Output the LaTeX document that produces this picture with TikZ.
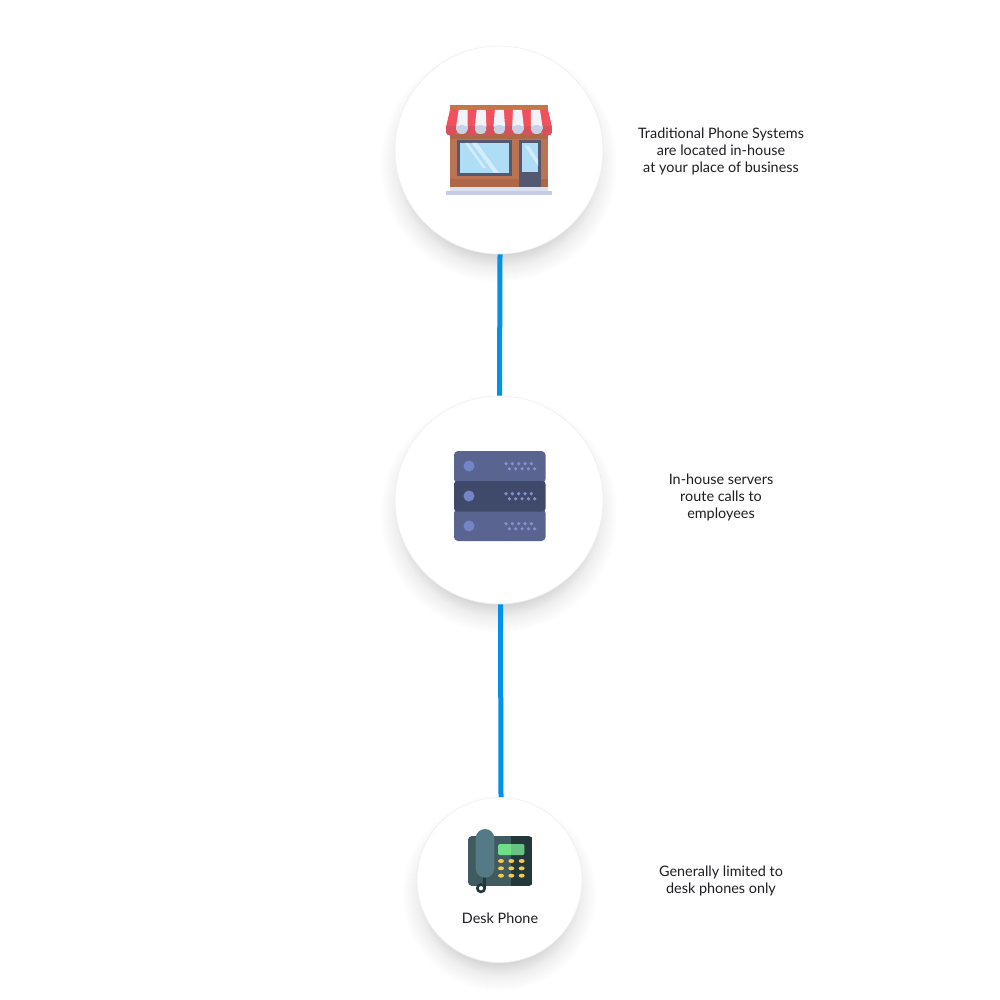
\documentclass[tikz,border=0pt]{standalone}
\usepackage{fontspec}
\setmainfont{Lato}
\definecolor{linkblue}{HTML}{0091EA}
\definecolor{txt}{HTML}{1E1E22}
\definecolor{ringc}{HTML}{F0F0F0}
\definecolor{shadowc}{HTML}{303030}
\definecolor{awred}{HTML}{F2505D}
\definecolor{awredd}{HTML}{D8505C}
\definecolor{awwh}{HTML}{F1F3F9}
\definecolor{awwhd}{HTML}{C7D2E8}
\definecolor{brick}{HTML}{BA7454}
\definecolor{brickd}{HTML}{AE6848}
\definecolor{frame}{HTML}{55596F}
\definecolor{glass}{HTML}{AEDDF5}
\definecolor{glassl}{HTML}{D3EDFA}
\definecolor{baseb}{HTML}{C5CDE4}
\definecolor{srvl}{HTML}{5A6490}
\definecolor{srvd}{HTML}{3F4A6B}
\definecolor{srvc}{HTML}{7384C9}
\definecolor{srvdot}{HTML}{8492CF}
\definecolor{phl}{HTML}{3F5B5F}
\definecolor{phd}{HTML}{22383B}
\definecolor{phh}{HTML}{547A85}
\definecolor{scrl}{HTML}{6FDE86}
\definecolor{scrd}{HTML}{69C283}
\definecolor{btn}{HTML}{F8C846}
\tikzset{
  disc/.style={circle,draw=ringc,line width=0.7pt,fill=white,inner sep=0pt,minimum size=#1},
  link/.style={draw=linkblue,line width=5pt},
  note/.style={align=center,text=txt,font=\fontsize{14.4}{17}\selectfont,inner sep=0pt},
}
\newcommand{\softshadow}[3]{%
  \foreach \k in {0,...,40}{
    \fill[shadowc,opacity={0.0008+0.00025*\k}] (#1,#2+14) circle ({#3+20-\k});
  }}
\begin{document}
\begin{tikzpicture}[x=1pt,y=-1pt]
\useasboundingbox (0,0) rectangle (1000,1000);
\fill[white] (0,0) rectangle (1000,1000);

\softshadow{499}{150}{104}
\softshadow{499}{500}{104}
\softshadow{499.5}{880}{82.5}

\node[disc=208pt] (store) at (499,150) {};
\node[disc=208pt] (server) at (499,500) {};
\node[disc=165pt] (phone) at (499.5,880) {};

\draw[link] ([xshift=1pt]store.south) -- ([xshift=0.5pt]server.north);
\draw[link] ([xshift=1.5pt]server.south) -- ([xshift=1.5pt]phone.north);

% store icon
\fill[brick] (450,106) rectangle (548,188);
\fill[brick!85!orange] (450,105) rectangle (548,111);
\fill[brickd] (450,179) rectangle (548,188);
\fill[brickd] (450,134) rectangle (548,139);
\fill[awred] (450,110) -- (548,110) -- (552,127) -- (446,127) -- cycle;
\fill[awredd] (446,126) rectangle (552,132);
\foreach \c in {451,470.8,489.5,508.5,527.2,547}{
  \fill[awredd] (\c,132) ellipse ({5.2} and {3.8});
}
\foreach \i in {-2,...,2}{
  \fill[awwh] ({499.3+\i*18.1-4.5},110) -- ({499.3+\i*18.1+4.5},110) -- ({499.3+\i*18.7+5.8},127) -- ({499.3+\i*18.7-5.8},127) -- cycle;
  \fill[awwhd] ({499.3+\i*18.7-5.8},126) rectangle ({499.3+\i*18.7+5.8},129.5);
  \fill[awwhd] ({499.3+\i*18.7},129.5) ellipse ({5.8} and {4.5});
}
\fill[frame] (457,140) rectangle (512,176);
\fill[glass] (460,143) rectangle (509,173);
\fill[glassl] (472,143) -- (477,143) -- (499,173) -- (494,173) -- cycle;
\fill[glassl] (465,143) -- (468,143) -- (486,168) -- (483,168) -- cycle;
\fill[frame] (519,140) rectangle (541,188);
\fill[glass] (522,143) rectangle (538,172);
\fill[glassl] (525,146) -- (529,146) -- (538,160) -- (538,166) -- cycle;
\fill[baseb!60!white] (450,187.5) rectangle (548,191);
\fill[baseb] (446,191) rectangle (552,195);

% server icon
\fill[srvl,rounded corners=4pt] (454,451) rectangle (545.5,483);
\fill[srvl,rounded corners=4pt] (454,509) rectangle (545.5,541);
\fill[srvd,rounded corners=3pt] (454,481) rectangle (545.5,511.5);
\foreach \dy in {0,30,60}{
  \fill[srvc] (469,466+\dy) circle (5.5);
  \foreach \x in {506,512.3,518.7,525,531.3}{
    \fill[srvdot] (\x,463.7+\dy) circle (1.8);
    \fill[srvdot] (\x+3.4,468.8+\dy) circle (1.8);
  }
}

% phone icon
\begin{scope}
\clip[rounded corners=4pt] (468,836) rectangle (532.7,886);
\fill[phl] (468,836) rectangle (511,886);
\fill[phd] (511,836) rectangle (532.7,886);
\end{scope}
\draw[phd,line width=2.6pt] (481,888.2) circle (3.7);
\draw[phd,line width=2.6pt] (484.7,874) -- (484.7,888.2);
\fill[phh,rounded corners=9.3pt] (475.7,829) rectangle (494.3,877.7);
\fill[scrl,rounded corners=1.5pt] (498,844) rectangle (524.3,855);
\begin{scope}
\clip[rounded corners=1.5pt] (498,844) rectangle (524.3,855);
\fill[scrd] (511,844) rectangle (524.3,855);
\end{scope}
\foreach \x in {501,511.3,521.7}{
  \foreach \y in {861,868.3,875.7}{
    \fill[btn] (\x,\y) ellipse ({3} and {2});
  }
}

% labels
\node[note] (t1) at (721,151) {Traditional Phone Systems\\are located in-house\\at your place of business};
\node[note] (t2) at (721,497) {In-house servers\\route calls to\\employees};
\node[note] (t3) at (721,880.5) {Generally limited to\\desk phones only};
\node[note] (t4) at (500,918) {Desk Phone};
\end{tikzpicture}
\end{document}
